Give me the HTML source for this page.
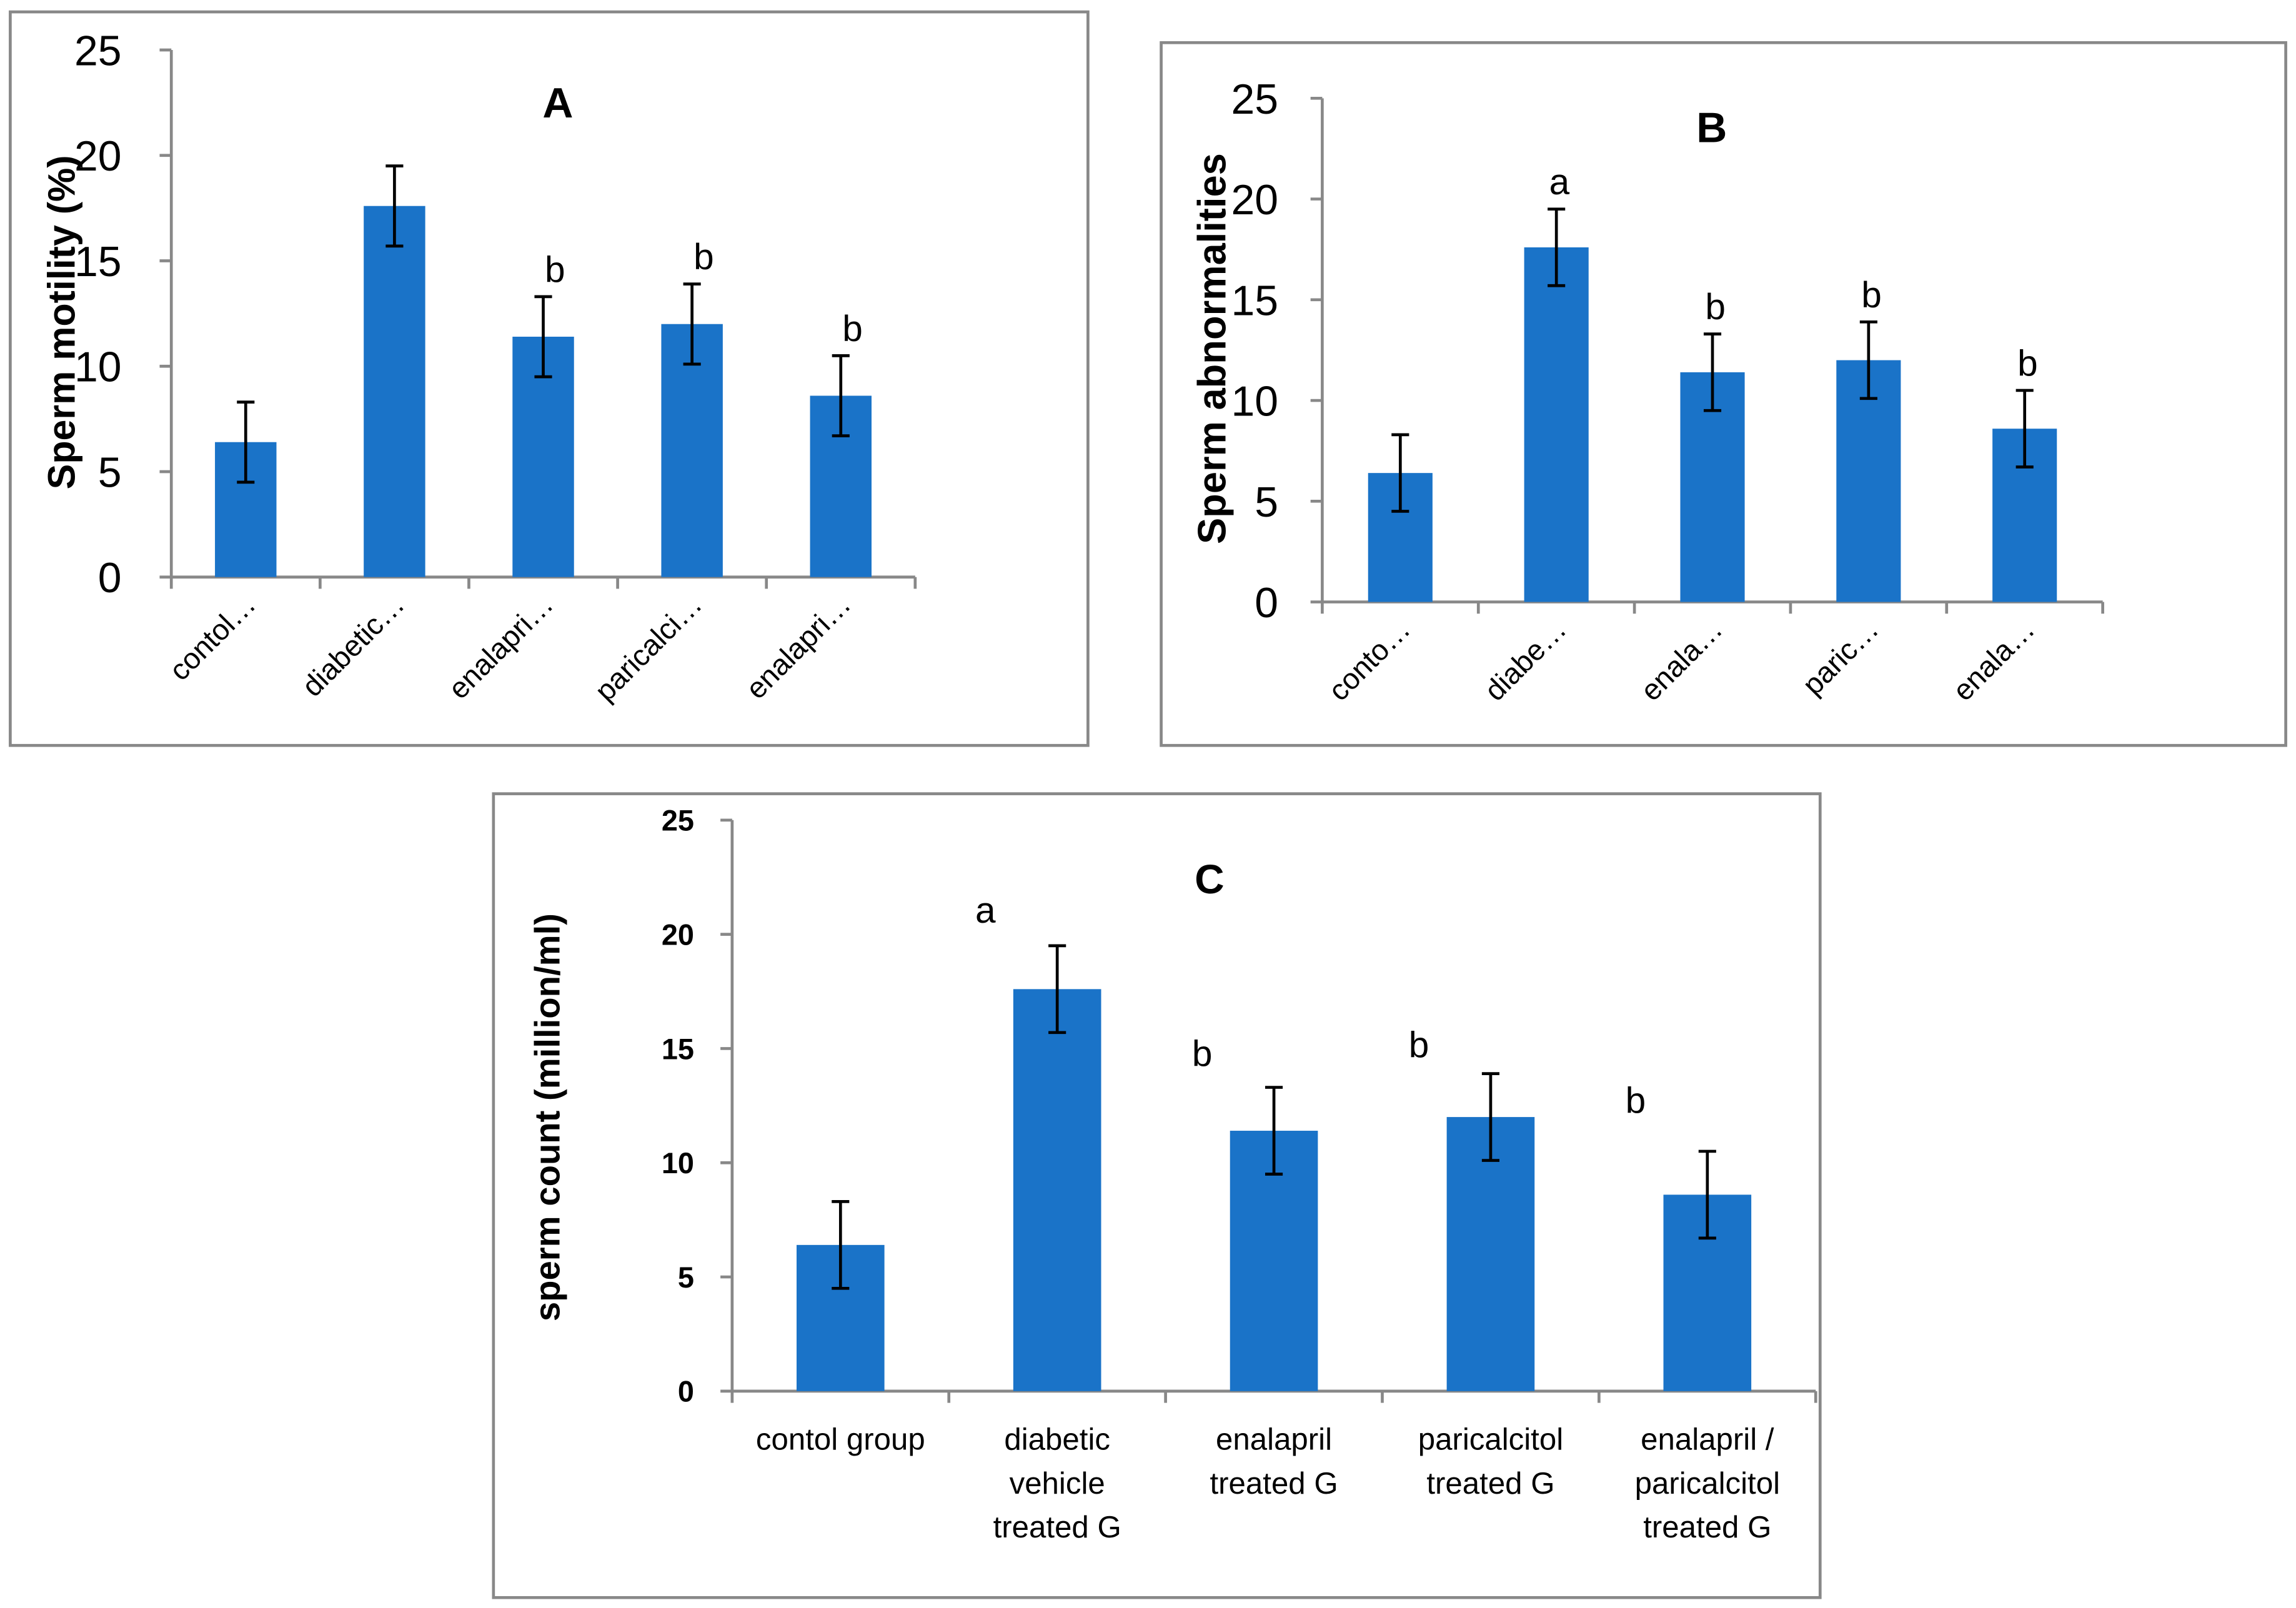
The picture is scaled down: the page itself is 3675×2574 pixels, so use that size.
<!DOCTYPE html>
<html><head><meta charset="utf-8"><style>
html,body{margin:0;padding:0;background:#fff}
svg{display:block}
text{font-family:"Liberation Sans",sans-serif}
</style></head><body>
<svg id="fig" width="3675" height="2574" viewBox="0 0 1568 1098" xmlns="http://www.w3.org/2000/svg"></svg>
<script>
const categoriesShortA = ["contol…","diabetic…","enalapri…","paricalci…","enalapri…"];
const categoriesShortB = ["conto…","diabe…","enala…","paric…","enala…"];
const categoriesC = [["contol group"],["diabetic","vehicle","treated G"],["enalapril","treated G"],["paricalcitol","treated G"],["enalapril /","paricalcitol","treated G"]];
const valuesA = [6.4, 17.6, 11.4, 12.0, 8.6];
const errorsA = [1.9, 1.9, 1.9, 1.9, 1.9];
const lettersA = ["", "", "b", "b", "b"];
const valuesB = [6.4, 17.6, 11.4, 12.0, 8.6];
const errorsB = [1.9, 1.9, 1.9, 1.9, 1.9];
const lettersB = ["", "a", "b", "b", "b"];
const valuesC = [6.4, 17.6, 11.4, 12.0, 8.6];
const errorsC = [1.9, 1.9, 1.9, 1.9, 1.9];
const lettersC = ["", "a", "b", "b", "b"];
const yTicks = [0, 5, 10, 15, 20, 25];

const svg = document.getElementById('fig');
const NS = "http://www.w3.org/2000/svg";
function mk(tag, attrs, parent, txt){
  const e = document.createElementNS(NS, tag);
  for (const k in attrs) e.setAttribute(k, attrs[k]);
  if (txt !== undefined) e.textContent = txt;
  (parent||svg).appendChild(e);
  return e;
}

function panel(p){
  const g = mk('g', {});
  
  
  const fr = mk('rect', {x:p.fx, y:p.fy, width:p.fw, height:p.fh, fill:'none', stroke:'#888', 'stroke-width':2}, g);
  
  
  const n = p.values.length;
  const step = (p.x1 - p.x0) / n;
  const ys = v => p.y0 - (p.y0 - p.y25) * v / 25;
  const xc = i => p.x0 + step * (i + 0.5);
  const ya = mk('line', {x1:p.x0, y1:p.y0, x2:p.x0, y2:p.y25, stroke:'#888', 'stroke-width':2}, g);
  
  
  yTicks.forEach(t => {
    mk('line', {x1:p.x0-8, y1:ys(t), x2:p.x0, y2:ys(t), stroke:'#888', 'stroke-width':2}, g);
    const tl = mk('text', {x:p.x0-p.tickGap, y:ys(t)+p.tickFs*0.36, 'text-anchor':'end', 'font-size':p.tickFs, 'font-weight':p.tickBold?'bold':'normal', fill:'#000'}, g, t);
    
    
  });
  const xa = mk('line', {x1:p.x0, y1:p.y0, x2:p.x1, y2:p.y0, stroke:'#888', 'stroke-width':2}, g);
  
  
  for (let i = 0; i <= n; i++) mk('line', {x1:p.x0+step*i, y1:p.y0, x2:p.x0+step*i, y2:p.y0+8, stroke:'#888', 'stroke-width':2}, g);
  p.values.forEach((v, i) => {
    const b = mk('rect', {x:xc(i)-p.bw/2, y:ys(v), width:p.bw, height:p.y0-ys(v), fill:'#1a73c8'}, g);
    
    
    const e = p.errors[i];
    const eg = mk('g', {stroke:'#000', 'stroke-width':2}, g);
    
    
    mk('line', {x1:xc(i), y1:ys(v+e), x2:xc(i), y2:ys(v-e)}, eg);
    mk('line', {x1:xc(i)-6, y1:ys(v+e), x2:xc(i)+6, y2:ys(v+e)}, eg);
    mk('line', {x1:xc(i)-6, y1:ys(v-e), x2:xc(i)+6, y2:ys(v-e)}, eg);
    if (p.letters[i]) {
      const lx = xc(i) + p.letterDx;
      const ly = p.letterY ? p.letterY[i] : ys(v+e) - 10;
      const lt = mk('text', {x:lx, y:ly, 'text-anchor':'middle', 'font-size':p.letterFs, fill:'#000'}, g, p.letters[i]);
      
      
    }
    if (p.rot) {
      const lx = xc(i) + 8, ly = p.y0 + 20;
      const t = mk('text', {x:lx, y:ly, 'text-anchor':'end', 'font-size':p.xFs, fill:'#000', transform:`rotate(-45 ${lx} ${ly})`}, g, p.cats[i]);
      
      
    } else {
      const t = mk('text', {x:xc(i), y:p.y0+40, 'text-anchor':'middle', 'font-size':p.xFs, fill:'#000'}, g);
      
      
      p.cats[i].forEach((ln, k) => mk('tspan', {x:xc(i), dy:k?30:0}, t, ln));
    }
  });
  const ti = mk('text', {x:p.tx, y:p.ty, 'text-anchor':'middle', 'font-size':p.titleFs, 'font-weight':'bold', fill:'#000'}, g, p.title);
  
  
  const yt = mk('text', {x:p.ytx, y:p.yty, 'text-anchor':'middle', 'font-size':p.ytFs, 'font-weight':'bold', fill:'#000', transform:`rotate(-90 ${p.ytx} ${p.yty})`}, g, p.ytitle);
  
  
}

panel({name:'panel-a', fx:7, fy:8, fw:736, fh:501, x0:117, x1:625, y0:394, y25:34, bw:42,
  values:valuesA, errors:errorsA, letters:lettersA, letterDx:8, letterFs:25, cats:categoriesShortA, rot:true, xFs:20,
  tickFs:29, tickGap:34, tickBold:false, title:'A', tx:381, ty:80, titleFs:29,
  ytitle:'Sperm motility (%)', ytx:51, yty:220, ytFs:26});
panel({name:'panel-b', fx:793, fy:29, fw:768, fh:480, x0:903, x1:1436, y0:411, y25:67, bw:44,
  values:valuesB, errors:errorsB, letters:lettersB, letterDx:2, letterFs:25, cats:categoriesShortB, rot:true, xFs:20,
  tickFs:29, tickGap:30, tickBold:false, title:'B', tx:1169, ty:97, titleFs:29,
  ytitle:'Sperm abnormalities', ytx:837, yty:238, ytFs:27});
panel({name:'panel-c', fx:337, fy:542, fw:906, fh:549, x0:500, x1:1240, y0:950, y25:560, bw:60,
  values:valuesC, errors:errorsC, letters:lettersC, letterDx:-49, letterFs:25, letterY:[0,630,728,722,760], cats:categoriesC, rot:false, xFs:21,
  tickFs:20, tickGap:26, tickBold:true, title:'C', tx:826, ty:610, titleFs:28,
  ytitle:'sperm count (million/ml)', ytx:382, yty:763, ytFs:24});
</script>
</body></html>
